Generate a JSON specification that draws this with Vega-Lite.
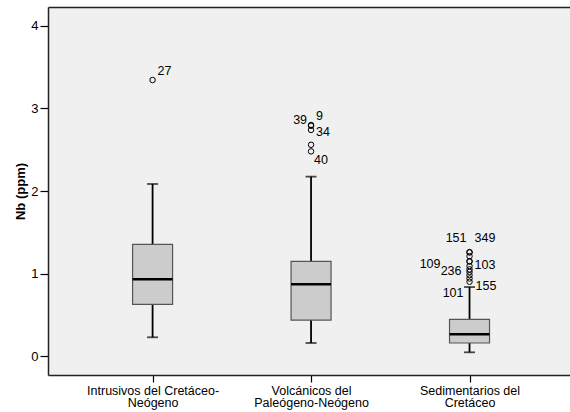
{
  "$schema": "https://vega.github.io/schema/vega-lite/v6.json",
  "width": 522,
  "height": 368,
  "autosize": "none",
  "padding": {"left": 48, "top": 7, "right": 0, "bottom": 37},
  "background": "white",
  "config": {
    "font": "Liberation Sans",
    "view": {"fill": "#F0F0F0", "stroke": null},
    "axis": {"grid": false, "labelColor": "#000000", "tickColor": "#000000", "domainColor": "#222222", "titleColor": "#000000", "labelFont": "Liberation Sans", "titleFont": "Liberation Sans"}
  },
  "resolve": {"axis": {"x": "independent"}},
  "datasets": {
    "boxes": [
      {"group": "Intrusivos del Cretáceo-Neógeno", "lower": 0.227, "q1": 0.627, "median": 0.93, "q3": 1.354, "upper": 2.085},
      {"group": "Volcánicos del Paleógeno-Neógeno", "lower": 0.158, "q1": 0.436, "median": 0.869, "q3": 1.148, "upper": 2.174},
      {"group": "Sedimentarios del Cretáceo", "lower": 0.045, "q1": 0.158, "median": 0.263, "q3": 0.444, "upper": 0.836}
    ],
    "outliers": [
      {"group": "Intrusivos del Cretáceo-Neógeno", "id": "27", "value": 3.345},
      {"group": "Volcánicos del Paleógeno-Neógeno", "id": "9", "value": 2.80},
      {"group": "Volcánicos del Paleógeno-Neógeno", "id": "39", "value": 2.79},
      {"group": "Volcánicos del Paleógeno-Neógeno", "id": "34", "value": 2.74},
      {"group": "Volcánicos del Paleógeno-Neógeno", "id": "", "value": 2.56},
      {"group": "Volcánicos del Paleógeno-Neógeno", "id": "40", "value": 2.48},
      {"group": "Sedimentarios del Cretáceo", "id": "151", "value": 1.26},
      {"group": "Sedimentarios del Cretáceo", "id": "349", "value": 1.255},
      {"group": "Sedimentarios del Cretáceo", "id": "", "value": 1.21},
      {"group": "Sedimentarios del Cretáceo", "id": "109", "value": 1.15},
      {"group": "Sedimentarios del Cretáceo", "id": "103", "value": 1.145},
      {"group": "Sedimentarios del Cretáceo", "id": "", "value": 1.09},
      {"group": "Sedimentarios del Cretáceo", "id": "", "value": 1.05},
      {"group": "Sedimentarios del Cretáceo", "id": "236", "value": 1.02},
      {"group": "Sedimentarios del Cretáceo", "id": "", "value": 0.98},
      {"group": "Sedimentarios del Cretáceo", "id": "155", "value": 0.94},
      {"group": "Sedimentarios del Cretáceo", "id": "101", "value": 0.90}
    ]
  },
  "encoding": {
    "x": {
      "field": "group", "type": "nominal",
      "sort": ["Intrusivos del Cretáceo-Neógeno", "Volcánicos del Paleógeno-Neógeno", "Sedimentarios del Cretáceo"],
      "scale": {"type": "point", "padding": 0.647, "align": 0.51}
    }
  },
  "layer": [
    {
      "encoding": {
        "x": {
          "field": "group", "type": "nominal",
          "sort": ["Intrusivos del Cretáceo-Neógeno", "Volcánicos del Paleógeno-Neógeno", "Sedimentarios del Cretáceo"],
          "axis": {
            "orient": "bottom", "title": null, "labelAngle": 0, "tickSize": 7, "labelFontSize": 12.5, "labelPadding": 2, "labelLineHeight": 12, "domainWidth": 1.5, "tickWidth": 1.2,
            "labelExpr": "datum.value == 'Intrusivos del Cretáceo-Neógeno' ? ['Intrusivos del Cretáceo-', 'Neógeno'] : datum.value == 'Volcánicos del Paleógeno-Neógeno' ? ['Volcánicos del', 'Paleógeno-Neógeno'] : ['Sedimentarios del', 'Cretáceo']"
          }
        }
      },
      "layer": [
        {
          "data": {"name": "boxes"},
          "mark": {"type": "rule", "color": "#000000", "strokeWidth": 1.8},
          "encoding": {
            "y": {"field": "lower", "type": "quantitative", "scale": {"domain": [-0.23, 4.23], "nice": false, "zero": false},
              "axis": {"values": [0, 1, 2, 3, 4], "format": "d", "tickSize": 8, "tickWidth": 1.2, "labelFontSize": 13, "labelPadding": 2, "title": "Nb (ppm)", "titleFontSize": 13, "titleFontWeight": "bold", "titlePadding": 3, "domainWidth": 1.5}},
            "y2": {"field": "upper"}
          }
        },
        {
          "data": {"name": "boxes"},
          "mark": {"type": "tick", "color": "#000000", "size": 11, "thickness": 1.8},
          "encoding": {"y": {"field": "lower", "type": "quantitative"}}
        },
        {
          "data": {"name": "boxes"},
          "mark": {"type": "bar", "size": 40, "fill": "#CCCCCC", "stroke": "#555555", "strokeWidth": 1.2},
          "encoding": {"y": {"field": "q1", "type": "quantitative"}, "y2": {"field": "q3"}}
        },
        {
          "data": {"name": "boxes"},
          "mark": {"type": "tick", "color": "#000000", "size": 40, "thickness": 2.6, "opacity": 1},
          "encoding": {"y": {"field": "median", "type": "quantitative"}}
        },
        {
          "data": {"name": "outliers"},
          "mark": {"type": "point", "shape": "circle", "filled": false, "size": 30, "stroke": "#000000", "strokeWidth": 1, "opacity": 1},
          "encoding": {"y": {"field": "value", "type": "quantitative"}}
        },
        {
          "data": {"name": "outliers"},
          "transform": [{"filter": "datum.id == '27' || datum.id == '9'"}],
          "mark": {"type": "text", "align": "left", "baseline": "middle", "dx": 5, "dy": -9, "fontSize": 12.5, "color": "#000000"},
          "encoding": {"y": {"field": "value", "type": "quantitative"}, "text": {"field": "id"}}
        },
        {
          "data": {"name": "outliers"},
          "transform": [{"filter": "datum.id == '39'"}],
          "mark": {"type": "text", "align": "right", "baseline": "middle", "dx": -4, "dy": -6, "fontSize": 12.5, "color": "#000000"},
          "encoding": {"y": {"field": "value", "type": "quantitative"}, "text": {"field": "id"}}
        },
        {
          "data": {"name": "outliers"},
          "transform": [{"filter": "datum.id == '34'"}],
          "mark": {"type": "text", "align": "left", "baseline": "middle", "dx": 5, "dy": 2, "fontSize": 12.5, "color": "#000000"},
          "encoding": {"y": {"field": "value", "type": "quantitative"}, "text": {"field": "id"}}
        },
        {
          "data": {"name": "outliers"},
          "transform": [{"filter": "datum.id == '40'"}],
          "mark": {"type": "text", "align": "left", "baseline": "middle", "dx": 3, "dy": 9, "fontSize": 12.5, "color": "#000000"},
          "encoding": {"y": {"field": "value", "type": "quantitative"}, "text": {"field": "id"}}
        },
        {
          "data": {"name": "outliers"},
          "transform": [{"filter": "datum.id == '151'"}],
          "mark": {"type": "text", "align": "right", "baseline": "middle", "dx": -3, "dy": -14, "fontSize": 12.5, "color": "#000000"},
          "encoding": {"y": {"field": "value", "type": "quantitative"}, "text": {"field": "id"}}
        },
        {
          "data": {"name": "outliers"},
          "transform": [{"filter": "datum.id == '349'"}],
          "mark": {"type": "text", "align": "left", "baseline": "middle", "dx": 5, "dy": -14, "fontSize": 12.5, "color": "#000000"},
          "encoding": {"y": {"field": "value", "type": "quantitative"}, "text": {"field": "id"}}
        },
        {
          "data": {"name": "outliers"},
          "transform": [{"filter": "datum.id == '109'"}],
          "mark": {"type": "text", "align": "right", "baseline": "middle", "dx": -29, "dy": 3, "fontSize": 12.5, "color": "#000000"},
          "encoding": {"y": {"field": "value", "type": "quantitative"}, "text": {"field": "id"}}
        },
        {
          "data": {"name": "outliers"},
          "transform": [{"filter": "datum.id == '103'"}],
          "mark": {"type": "text", "align": "left", "baseline": "middle", "dx": 5, "dy": 3, "fontSize": 12.5, "color": "#000000"},
          "encoding": {"y": {"field": "value", "type": "quantitative"}, "text": {"field": "id"}}
        },
        {
          "data": {"name": "outliers"},
          "transform": [{"filter": "datum.id == '236'"}],
          "mark": {"type": "text", "align": "right", "baseline": "middle", "dx": -8, "dy": -1, "fontSize": 12.5, "color": "#000000"},
          "encoding": {"y": {"field": "value", "type": "quantitative"}, "text": {"field": "id"}}
        },
        {
          "data": {"name": "outliers"},
          "transform": [{"filter": "datum.id == '155'"}],
          "mark": {"type": "text", "align": "left", "baseline": "middle", "dx": 6, "dy": 8, "fontSize": 12.5, "color": "#000000"},
          "encoding": {"y": {"field": "value", "type": "quantitative"}, "text": {"field": "id"}}
        },
        {
          "data": {"name": "outliers"},
          "transform": [{"filter": "datum.id == '101'"}],
          "mark": {"type": "text", "align": "right", "baseline": "middle", "dx": -6, "dy": 11, "fontSize": 12.5, "color": "#000000"},
          "encoding": {"y": {"field": "value", "type": "quantitative"}, "text": {"field": "id"}}
        }
      ]
    },
    {
      "data": {"name": "boxes"},
      "mark": {"type": "tick", "color": "#000000", "size": 11, "thickness": 1.8},
      "encoding": {
        "x": {"field": "group", "type": "nominal", "sort": ["Intrusivos del Cretáceo-Neógeno", "Volcánicos del Paleógeno-Neógeno", "Sedimentarios del Cretáceo"],
          "axis": {"orient": "top", "labels": false, "ticks": false, "title": null, "domainWidth": 1.5}},
        "y": {"field": "upper", "type": "quantitative"}
      }
    }
  ]
}
